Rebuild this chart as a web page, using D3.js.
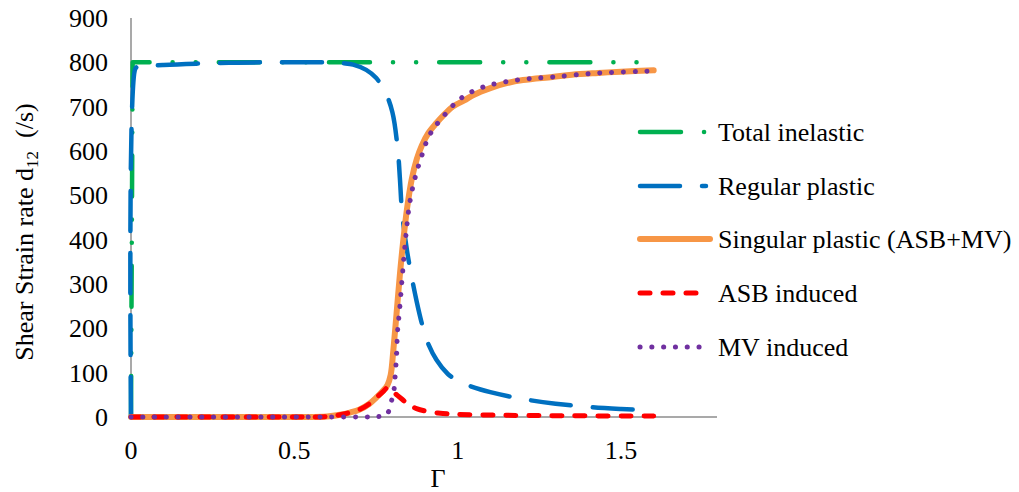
<!DOCTYPE html>
<html><head><meta charset="utf-8">
<script src="https://cdn.jsdelivr.net/npm/d3@7/dist/d3.min.js"></script>
<style>
body{margin:0;background:#fff;}
</style></head>
<body><svg id="c" width="1019" height="492"></svg>
<script>
const xTicks = [0, 0.5, 1, 1.5];
const yTicks = [0,100,200,300,400,500,600,700,800,900];
const seriesNames = ["Total inelastic","Regular plastic","Singular plastic (ASB+MV)","ASB induced","MV induced"];

const totalInelastic = [[0,0],[0.005,800],[0.1,800],[0.5,800],[1.0,800],[1.6,800]];
const regularPlastic = [[0,0],[0.013,785],[0.02,790],[0.04,791],[0.1,794],[0.2,797],[0.3,799],[0.4,800],[0.5,800],[0.6,800],[0.65,798],[0.68,795],[0.72,783],[0.75,765],[0.777,735],[0.80,688],[0.817,600],[0.823,540],[0.83,460],[0.845,375],[0.86,313],[0.875,259],[0.89,212],[0.905,174],[0.935,129],[0.97,97],[1.0,82],[1.03,72],[1.07,62],[1.1,56],[1.16,46],[1.22,38],[1.3,30],[1.41,22],[1.5,18],[1.6,15]];
const singularPlastic = [[0,0],[0.5,0],[0.6,1],[0.64,5],[0.67,10],[0.70,17],[0.73,30],[0.75,43],[0.77,58],[0.785,72],[0.795,95],[0.803,150],[0.813,234],[0.823,320],[0.833,395],[0.845,470],[0.859,535],[0.875,582],[0.89,612],[0.91,640],[0.935,663],[0.96,683],[0.985,700],[1.02,714],[1.05,727],[1.1,742],[1.15,753],[1.2,760],[1.29,767],[1.35,772],[1.43,776],[1.5,779],[1.6,782]];
const asbInduced = [[0,0],[0.5,0],[0.6,1],[0.64,5],[0.67,10],[0.70,17],[0.73,30],[0.75,43],[0.77,56],[0.786,66],[0.80,58],[0.83,40],[0.85,28],[0.874,19],[0.91,12],[0.955,8],[1.0,6],[1.13,4],[1.3,3],[1.6,2]];
const mvInduced = [[0,0],[0.5,0],[0.7,0],[0.76,1],[0.78,4],[0.787,10],[0.797,35],[0.805,61],[0.808,86],[0.813,140],[0.816,193],[0.822,240],[0.832,330],[0.843,420],[0.853,482],[0.868,535],[0.889,587],[0.914,636],[0.955,677],[1.01,719],[1.077,744],[1.18,760],[1.29,767],[1.434,776],[1.58,780],[1.6,781]];

const styles = [
  {color:"#00B050", width:4.5, dash:"41,23,0.1,23,0.1,23", cap:"round"},
  {color:"#0070C0", width:4.5, dash:"40,22", cap:"round"},
  {color:"#F79646", width:6, dash:null, cap:"round"},
  {color:"#FF0000", width:5, dash:"10,13", cap:"round"},
  {color:"#7030A0", width:5, dash:"0.1,11.7", cap:"round"}
];
const allData = [totalInelastic, regularPlastic, singularPlastic, asbInduced, mvInduced];
const FONT = "'Liberation Serif', 'Times New Roman', Times, 'DejaVu Serif', serif";
const FS = 26;

const svg = d3.select("#c").attr("font-family", FONT);
const x = d3.scaleLinear().domain([0,1.8]).range([131,719]);
const y = d3.scaleLinear().domain([0,900]).range([417,18]);

svg.append("line").attr("x1",x(0)).attr("x2",x(0)).attr("y1",y(900)).attr("y2",y(0)).attr("stroke","#8c8c8c").attr("stroke-width",1.5);
svg.append("line").attr("x1",x(0)).attr("x2",717).attr("y1",y(0)).attr("y2",y(0)).attr("stroke","#8c8c8c").attr("stroke-width",1.5);

svg.append("g").selectAll("text").data(yTicks).join("text")
  .attr("x",108).attr("y",d=>y(d)).attr("dy","0.34em").attr("text-anchor","end")
  .attr("font-family",FONT).attr("font-size",FS).attr("fill","#000").text(d=>d);
svg.append("g").selectAll("text").data(xTicks).join("text")
  .attr("x",d=>x(d)).attr("y",459).attr("text-anchor","middle")
  .attr("font-family",FONT).attr("font-size",FS).attr("fill","#000").text(d=>d);

svg.append("text").attr("x",438).attr("y",487).attr("text-anchor","middle").attr("font-family",FONT).attr("font-size",FS).text("Γ");
const yt = svg.append("text").attr("transform","translate(33,232) rotate(-90)").attr("text-anchor","middle").attr("font-family",FONT).attr("font-size",FS);
yt.append("tspan").text("Shear Strain rate d");
yt.append("tspan").attr("font-size",17).attr("dy",5).text("12");
yt.append("tspan").attr("dy",-5).text("\u00a0\u00a0(/s)");

const line = d3.line().x(d=>x(d[0])).y(d=>y(d[1])).curve(d3.curveCatmullRom.alpha(0.5));
const lineV = d3.line().x(d=>x(d[0])).y(d=>y(d[1])).curve(d3.curveLinear);
allData.forEach((data,i)=>{
  const s = styles[i];
  svg.append("path").datum(data)
    .attr("d", (i==0 ? lineV : line))
    .attr("fill","none").attr("stroke",s.color).attr("stroke-width",s.width)
    .attr("stroke-linecap",s.cap).attr("stroke-linejoin","round")
    .attr("stroke-dasharray",s.dash);
});

const legendY = [132,186,239,293,347];
const legendEnd = [710,706,710,702,702];
const lg = svg.append("g");
seriesNames.forEach((n,i)=>{
  const s = styles[i];
  lg.append("line").attr("x1",640).attr("x2",legendEnd[i]).attr("y1",legendY[i]).attr("y2",legendY[i])
    .attr("stroke",s.color).attr("stroke-width",s.width).attr("stroke-linecap",s.cap)
    .attr("stroke-dasharray",s.dash);
  lg.append("text").attr("x",718).attr("y",legendY[i]).attr("dy","0.33em").attr("font-family",FONT).attr("font-size",FS).text(n);
});
</script></body></html>
